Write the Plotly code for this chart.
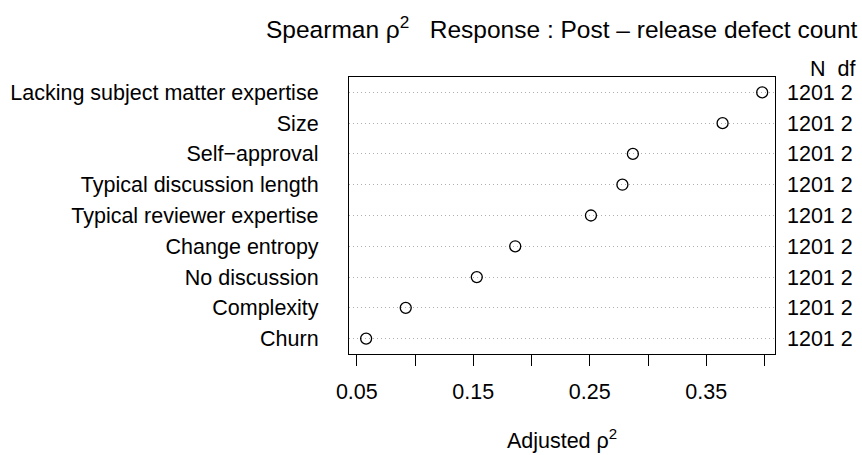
import plotly.graph_objects as go

# ---- data (top row first) ----
variables = [
    "Lacking subject matter expertise",
    "Size",
    "Self\u2212approval",
    "Typical discussion length",
    "Typical reviewer expertise",
    "Change entropy",
    "No discussion",
    "Complexity",
    "Churn",
]
adj_rho2 = [0.398, 0.364, 0.287, 0.278, 0.251, 0.186, 0.153, 0.092, 0.058]
n_obs = [1201, 1201, 1201, 1201, 1201, 1201, 1201, 1201, 1201]
dfs = [2, 2, 2, 2, 2, 2, 2, 2, 2]
x_major_ticks = [0.05, 0.15, 0.25, 0.35]
x_major_labels = ["0.05", "0.15", "0.25", "0.35"]
x_minor_ticks = [0.10, 0.20, 0.30, 0.40]

FONT = "Liberation Sans, Arial, Helvetica, sans-serif"
FS = 21.5
FS_TITLE = 24.5

W, H = 862, 455
ML, MR, MT, MB = 349, 87, 77, 101

right_labels = [f"{n} {d}" for n, d in zip(n_obs, dfs)]
cat_order = list(reversed(variables))

fig = go.Figure()
fig.add_trace(go.Scatter(
    x=adj_rho2, y=variables, mode="markers",
    marker=dict(symbol="circle-open", size=11, color="black", line=dict(width=1.3, color="black")),
    showlegend=False, hoverinfo="x+y",
))
fig.add_trace(go.Scatter(
    x=adj_rho2, y=variables, mode="markers", yaxis="y2",
    marker=dict(opacity=0), showlegend=False, hoverinfo="skip",
))

plot_w = W - ML - MR
plot_h = H - MT - MB
def px_to_paper_x(px):
    return (px - ML) / plot_w
def px_to_paper_y(py):
    return (H - MB - py) / plot_h

fig.update_layout(
    width=W, height=H,
    margin=dict(l=ML, r=MR, t=MT, b=MB, autoexpand=False),
    paper_bgcolor="white", plot_bgcolor="white",
    font=dict(family=FONT, size=FS, color="black"),
    xaxis=dict(
        range=[0.0433, 0.409], tickvals=x_major_ticks, ticktext=x_major_labels,
        ticks="outside", ticklen=11, tickwidth=1, tickcolor="black",
        ticklabelstandoff=7, automargin=False,
        minor=dict(tickvals=x_minor_ticks, ticks="outside", ticklen=11, tickwidth=1,
                   tickcolor="black", showgrid=False),
        showline=True, linecolor="black", linewidth=1.2, mirror=True,
        showgrid=False, zeroline=False,
        title=dict(text="Adjusted \u03c1<sup>2</sup>", standoff=30, font=dict(size=FS)),
    ),
    yaxis=dict(
        type="category", categoryorder="array", categoryarray=cat_order,
        range=[-0.5, 8.5], automargin=False,
        showline=True, linecolor="black", linewidth=1.2, mirror=True,
        showgrid=True, gridcolor="#b0b0b0", griddash="1px,3px", gridwidth=1,
        ticks="", ticklabelstandoff=25, zeroline=False,
    ),
    yaxis2=dict(
        type="category", categoryorder="array", categoryarray=cat_order,
        range=[-0.5, 8.5], overlaying="y", side="right", automargin=False,
        tickvals=variables, ticktext=right_labels,
        ticks="", ticklabelstandoff=11, showgrid=False, zeroline=False, showline=False,
    ),
    annotations=[
        dict(text="Spearman \u03c1<sup>2</sup>\u00a0\u00a0\u00a0Response\u00a0: Post\u00a0\u2013\u00a0release defect count",
             x=px_to_paper_x(860), y=px_to_paper_y(28), xref="paper", yref="paper",
             showarrow=False, xanchor="right", yanchor="middle", font=dict(size=FS_TITLE)),
        dict(text="N\u00a0\u00a0df", x=px_to_paper_x(857), y=px_to_paper_y(69),
             xref="paper", yref="paper", showarrow=False,
             xanchor="right", yanchor="middle", font=dict(size=FS)),
    ],
)

fig.write_html("out.html", config={"displayModeBar": False},
               post_script="document.body.style.margin='0';document.body.style.padding='0';")
